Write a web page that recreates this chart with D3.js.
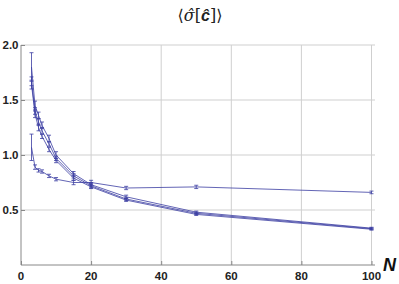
<!DOCTYPE html>
<html>
<head>
<meta charset="utf-8">
<script src="https://cdn.jsdelivr.net/npm/d3@7"></script>
<style>
  body { margin: 0; background: #fff; }
  svg { display: block; }
</style>
</head>
<body>
<svg id="canvas" width="399" height="284"></svg>
<script>
// N values (x) shared by every series
var nValues = [3, 4, 5, 6, 8, 10, 15, 20, 30, 50, 100];

// mean sigma-hat per series
var seriesA = [1.80, 1.45, 1.36, 1.27, 1.15, 1.00, 0.83, 0.73, 0.62, 0.48, 0.335];
var seriesB = [1.67, 1.40, 1.30, 1.22, 1.10, 0.97, 0.81, 0.72, 0.60, 0.47, 0.33];
var seriesC = [1.64, 1.37, 1.25, 1.17, 1.05, 0.95, 0.79, 0.71, 0.59, 0.46, 0.325];
var seriesD = [1.07, 0.89, 0.86, 0.85, 0.81, 0.78, 0.75, 0.75, 0.70, 0.71, 0.66];

// half-widths of the error bars
var errA = [0.13, 0.04, 0.03, 0.03, 0.03, 0.03, 0.02, 0.02, 0.015, 0.01, 0.008];
var errB = [0.04, 0.03, 0.03, 0.03, 0.02, 0.02, 0.02, 0.02, 0.012, 0.01, 0.008];
var errC = [0.04, 0.03, 0.03, 0.02, 0.02, 0.02, 0.02, 0.015, 0.012, 0.01, 0.008];
var errD = [0.12, 0.02, 0.015, 0.015, 0.015, 0.015, 0.02, 0.02, 0.015, 0.015, 0.012];

var xTicks = [0, 20, 40, 60, 80, 100];
var yTicks = [0.5, 1.0, 1.5, 2.0];

var allSeries = [
  { values: seriesA, err: errA },
  { values: seriesB, err: errB },
  { values: seriesC, err: errC },
  { values: seriesD, err: errD }
];

var svg = d3.select('#canvas');
var margin = { left: 21, top: 45, right: 24, bottom: 19 };
var outerWidth = 399, outerHeight = 284;
var innerWidth = outerWidth - margin.left - margin.right;
var innerHeight = outerHeight - margin.top - margin.bottom;

var x = d3.scaleLinear().domain([0, 101]).range([0, innerWidth]);
var y = d3.scaleLinear().domain([0, 2.0]).range([innerHeight, 0]);

var g = svg.append('g')
  .attr('transform', 'translate(' + margin.left + ',' + margin.top + ')');

// grid
g.append('g').selectAll('line.vgrid')
  .data(xTicks.slice(1))
  .enter().append('line')
  .attr('x1', d => x(d)).attr('x2', d => x(d))
  .attr('y1', 0).attr('y2', innerHeight)
  .attr('stroke', '#cfcfcf').attr('stroke-width', 1);
g.append('g').selectAll('line.hgrid')
  .data(yTicks)
  .enter().append('line')
  .attr('x1', 0).attr('x2', innerWidth)
  .attr('y1', d => y(d)).attr('y2', d => y(d))
  .attr('stroke', '#cfcfcf').attr('stroke-width', 1);

// axes, ticks pointing inward like the original
var xMinor = d3.range(0, 101, 5);
var yMinor = d3.range(0, 2.01, 0.1);

var xAxisG = g.append('g')
  .attr('transform', 'translate(0,' + innerHeight + ')');
xAxisG.call(d3.axisTop(x).tickValues(xMinor).tickSize(2.5).tickFormat(''));
xAxisG.call(d3.axisTop(x).tickValues(xTicks).tickSize(4).tickFormat(''));
xAxisG.selectAll('.tick text').remove();
xAxisG.selectAll('path,line').attr('stroke', '#888');
xAxisG.select('.domain').attr('d', 'M0,0H' + innerWidth);
xAxisG.selectAll('text.xlab')
  .data(xTicks)
  .enter().append('text')
  .attr('class', 'xlab')
  .attr('x', d => x(d))
  .attr('y', 14.5)
  .attr('text-anchor', 'middle')
  .style('font', 'bold 11.5px "Liberation Sans", Arial, sans-serif')
  .attr('fill', '#222')
  .text(d => d);

var yAxisG = g.append('g');
yAxisG.call(d3.axisRight(y).tickValues(yMinor).tickSize(2.5).tickFormat(''));
yAxisG.call(d3.axisRight(y).tickValues(yTicks).tickSize(4).tickFormat(''));
yAxisG.selectAll('.tick text').remove();
yAxisG.selectAll('path,line').attr('stroke', '#888');
yAxisG.select('.domain').attr('d', 'M0,0V' + innerHeight);
yAxisG.selectAll('text.ylab')
  .data(yTicks)
  .enter().append('text')
  .attr('class', 'ylab')
  .attr('x', -2.5)
  .attr('y', d => y(d))
  .attr('dy', '0.35em')
  .attr('text-anchor', 'end')
  .style('font', 'bold 11.5px "Liberation Sans", Arial, sans-serif')
  .attr('fill', '#222')
  .text(d => d.toFixed(1));

// series
var line = d3.line()
  .x(d => x(d.n))
  .y(d => y(d.v));

allSeries.forEach(function (s) {
  var pts = nValues.map(function (n, i) { return { n: n, v: s.values[i], e: s.err[i] }; });
  var sg = g.append('g');
  sg.append('path')
    .attr('d', line(pts))
    .attr('fill', 'none')
    .attr('stroke', '#3c3fa3')
    .attr('stroke-opacity', 0.8)
    .attr('stroke-width', 1);
  var bars = sg.selectAll('g.bar').data(pts).enter().append('g')
    .attr('stroke', '#3c3fa3').attr('stroke-opacity', 0.8).attr('stroke-width', 1);
  bars.append('line')
    .attr('x1', d => x(d.n)).attr('x2', d => x(d.n))
    .attr('y1', d => y(d.v - d.e)).attr('y2', d => y(d.v + d.e));
  bars.append('line')
    .attr('x1', d => x(d.n) - 2).attr('x2', d => x(d.n) + 2)
    .attr('y1', d => y(d.v - d.e)).attr('y2', d => y(d.v - d.e));
  bars.append('line')
    .attr('x1', d => x(d.n) - 2).attr('x2', d => x(d.n) + 2)
    .attr('y1', d => y(d.v + d.e)).attr('y2', d => y(d.v + d.e));
});

// title
var title = svg.append('text')
  .attr('x', 200).attr('y', 21)
  .attr('text-anchor', 'middle')
  .style('font', '16px "DejaVu Serif", serif')
  .attr('fill', '#222');
title.append('tspan').text('⟨');
title.append('tspan').style('font-style', 'italic').text('σ̂');
title.append('tspan').text('[');
title.append('tspan')
  .style('font', 'italic bold 16px "Liberation Sans", Arial, sans-serif')
  .text('ĉ');
title.append('tspan').text(']⟩');

// axis label
svg.append('text')
  .attr('x', 383).attr('y', 271)
  .style('font', 'italic bold 18px "Liberation Sans", Arial, sans-serif')
  .attr('fill', '#111')
  .text('N');
</script>
</body>
</html>
